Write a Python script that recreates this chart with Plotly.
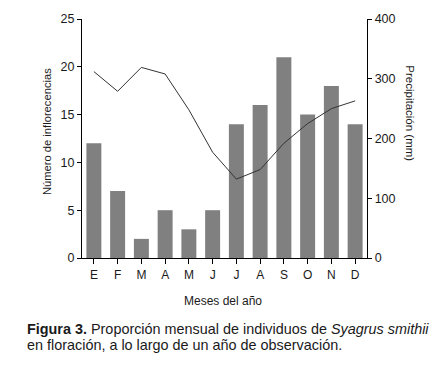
import plotly.graph_objects as go

months = ["E", "F", "M", "A", "M", "J", "J", "A", "S", "O", "N", "D"]
inflorescencias = [12, 7, 2, 5, 3, 5, 14, 16, 21, 15, 18, 14]
precipitacion = [312, 279, 319, 308, 248, 177, 132, 148, 192, 225, 250, 263]

x_idx = list(range(len(months)))

FONT = "Liberation Sans, Arial, sans-serif"
TXT = "#1a1a1a"

fig = go.Figure()
fig.add_trace(go.Bar(x=x_idx, y=inflorescencias, marker=dict(color="#808080", line=dict(width=0)),
                     width=0.63, yaxis="y"))
fig.add_trace(go.Scatter(x=x_idx, y=precipitacion, mode="lines",
                         line=dict(color="#333333", width=1), yaxis="y2"))

W, H = 437, 386
L, R, T, B = 82, 70, 16, 128

def px(xp):
    return (xp - L) / (W - L - R)

def py(yp):
    return (H - B - yp) / (H - T - B)

fig.update_layout(
    width=W, height=H,
    margin=dict(l=L, r=R, t=T, b=B),
    paper_bgcolor="white", plot_bgcolor="white",
    showlegend=False,
    font=dict(family=FONT, size=12, color=TXT),
    xaxis=dict(
        range=[-0.5, 11.5], tickmode="array", tickvals=x_idx, ticktext=months,
        showline=True, linecolor="#000", linewidth=1.3, ticks="outside", ticklen=5,
        tickcolor="#000", showgrid=False, zeroline=False, tickfont=dict(size=12, color=TXT),
    ),
    yaxis=dict(
        range=[0, 25], tickvals=[0, 5, 10, 15, 20, 25], showline=True, linecolor="#000",
        linewidth=1.3, ticks="outside", ticklen=4, tickcolor="#000", showgrid=False,
        zeroline=False, tickfont=dict(size=12.5, color=TXT),
    ),
    yaxis2=dict(
        range=[0, 400], tickvals=[0, 100, 200, 300, 400], overlaying="y", side="right",
        showline=True, linecolor="#000", linewidth=1.3, ticks="outside", ticklen=4,
        tickcolor="#000", showgrid=False, zeroline=False, tickfont=dict(size=12.5, color=TXT),
    ),
    annotations=[
        dict(text="Número de inflorecencias", textangle=-90, xref="paper", yref="paper",
             x=px(47), y=py(130.5), showarrow=False, font=dict(size=11.2, color=TXT),
             xanchor="center", yanchor="middle"),
        dict(text="Precipitación (mm)", textangle=90, xref="paper", yref="paper",
             x=px(410), y=py(111.5), showarrow=False, font=dict(size=11.5, color=TXT),
             xanchor="center", yanchor="middle"),
        dict(text="Meses del año", xref="paper", yref="paper", x=px(223), y=py(302),
             showarrow=False, font=dict(size=12, color=TXT), xanchor="center", yanchor="middle"),
        dict(text="<b>Figura 3.</b> Proporción mensual de individuos de <i>Syagrus smithii</i>",
             xref="paper", yref="paper", x=px(25), y=py(330), showarrow=False, align="left",
             font=dict(size=14.4, color=TXT), xanchor="left", yanchor="middle"),
        dict(text="en floración, a lo largo de un año de observación.",
             xref="paper", yref="paper", x=px(25), y=py(346), showarrow=False, align="left",
             font=dict(size=14.4, color=TXT), xanchor="left", yanchor="middle"),
    ],
)

fig.write_html("out.html", config={"displayModeBar": False},
               post_script="document.body.style.margin='0';document.body.style.padding='0';")
